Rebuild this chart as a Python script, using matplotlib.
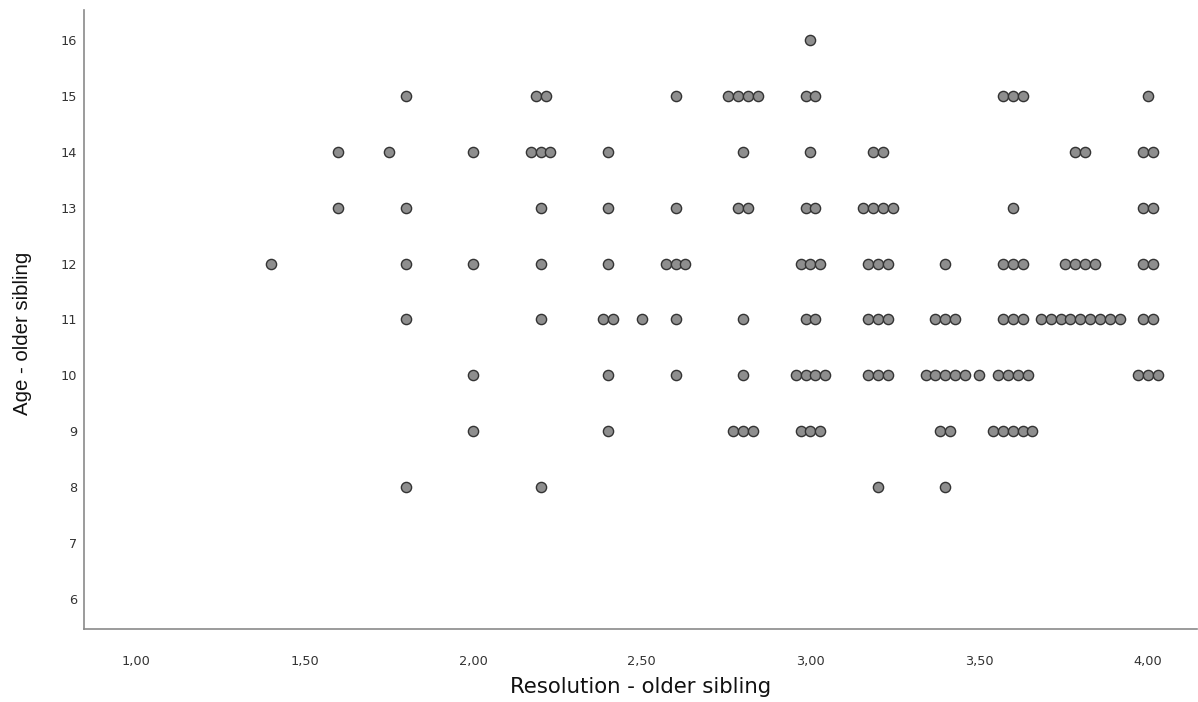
import numpy as np
import matplotlib
matplotlib.use('Agg')
import matplotlib.pyplot as plt
from matplotlib.ticker import FixedLocator, FuncFormatter

# resolution score (older sibling), age (older sibling), number of cases at that point
resolution = [3.0,
              1.8, 2.2, 2.6, 2.8, 3.0, 3.6, 4.0,
              1.6, 1.75, 2.0, 2.2, 2.4, 2.8, 3.0, 3.2, 3.8, 4.0,
              1.6, 1.8, 2.2, 2.4, 2.6, 2.8, 3.0, 3.2, 3.6, 4.0,
              1.4, 1.8, 2.0, 2.2, 2.4, 2.6, 3.0, 3.2, 3.4, 3.6, 3.8, 4.0,
              1.8, 2.2, 2.4, 2.5, 2.6, 2.8, 3.0, 3.2, 3.4, 3.6, 3.8, 4.0,
              2.0, 2.4, 2.6, 2.8, 3.0, 3.2, 3.4, 3.5, 3.6, 4.0,
              2.0, 2.4, 2.8, 3.0, 3.4, 3.6,
              1.8, 2.2, 3.2, 3.4]
age = [16,
       15, 15, 15, 15, 15, 15, 15,
       14, 14, 14, 14, 14, 14, 14, 14, 14, 14,
       13, 13, 13, 13, 13, 13, 13, 13, 13, 13,
       12, 12, 12, 12, 12, 12, 12, 12, 12, 12, 12, 12,
       11, 11, 11, 11, 11, 11, 11, 11, 11, 11, 11, 11,
       10, 10, 10, 10, 10, 10, 10, 10, 10, 10,
       9, 9, 9, 9, 9, 9,
       8, 8, 8, 8]
count = [1,
         1, 2, 1, 4, 2, 3, 1,
         1, 1, 1, 3, 1, 1, 1, 2, 2, 2,
         1, 1, 1, 1, 1, 2, 2, 4, 1, 2,
         1, 1, 1, 1, 1, 3, 3, 3, 1, 3, 4, 2,
         1, 1, 2, 1, 1, 1, 2, 3, 3, 3, 9, 2,
         1, 1, 1, 1, 4, 3, 5, 1, 4, 3,
         1, 1, 3, 3, 2, 5,
         1, 1, 1, 1]

x_ticks = [1.0, 1.5, 2.0, 2.5, 3.0, 3.5, 4.0]
y_ticks = list(range(6, 17))

# identical cases are stacked side by side, centred on the value
step = 0.0292
xs, ys = [], []
for r, a, n in zip(resolution, age, count):
    for i in range(n):
        xs.append(r + (i - (n - 1) / 2) * step)
        ys.append(a)

fig = plt.figure(figsize=(11.98, 7.02), dpi=100)
ax = fig.add_axes([0.0701, 0.104, 0.929, 0.882])

ax.scatter(xs, ys, s=54, facecolor='#8e8e8e', edgecolor='#333333', linewidth=1.0, zorder=3)

ax.set_xlim(0.846, 4.146)
ax.set_ylim(5.46, 16.54)
ax.xaxis.set_major_locator(FixedLocator(x_ticks))
ax.yaxis.set_major_locator(FixedLocator(y_ticks))
ax.xaxis.set_major_formatter(FuncFormatter(lambda v, p: f'{v:.2f}'.replace('.', ',')))
ax.tick_params(axis='both', length=0, labelsize=9.3, colors='#333333')
ax.tick_params(axis='x', pad=18.5)
ax.tick_params(axis='y', pad=5)

for s in ['top', 'right']:
    ax.spines[s].set_visible(False)
for s in ['left', 'bottom']:
    ax.spines[s].set_color('#8a8a8a')
    ax.spines[s].set_linewidth(1.2)

ax.set_xlabel('Resolution - older sibling', fontsize=15.3, family='DejaVu Sans', color='#111111', labelpad=7)
ax.set_ylabel('Age - older sibling', fontsize=14.7, family='Liberation Sans', color='#111111')
ax.yaxis.set_label_coords(-0.047, 0.478)

fig.savefig('out.png', dpi=100)
